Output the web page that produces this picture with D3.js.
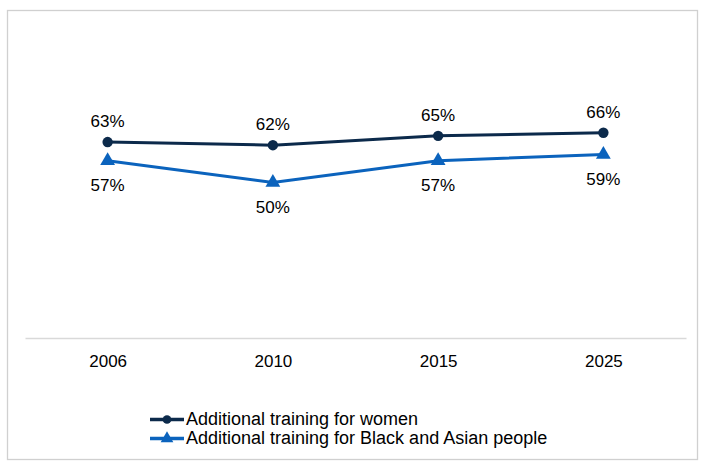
<!DOCTYPE html>
<html>
<head>
<meta charset="utf-8">
<script src="https://cdn.jsdelivr.net/npm/d3@7"></script>
<style>
  body { margin: 0; background: #fff; }
  text { font-family: "Liberation Sans", Arial, sans-serif; fill: #000; }
</style>
</head>
<body>
<div id="chart"></div>
<script>
// Data
var years = ["2006", "2010", "2015", "2025"];
var women = [63, 62, 65, 66];
var blackAsian = [57, 50, 57, 59];
var seriesNames = ["Additional training for women", "Additional training for Black and Asian people"];

var svgWidth = 714;
var svgHeight = 469;

var svg = d3.select("#chart")
  .append("svg")
  .attr("width", svgWidth)
  .attr("height", svgHeight);

// Outer frame
svg.append("rect")
  .attr("x", 7.5)
  .attr("y", 10.5)
  .attr("width", 690)
  .attr("height", 449)
  .style("fill", "none")
  .style("stroke", "#d0d0d0")
  .style("stroke-width", 1.3);

// Scales
var xScale = d3.scalePoint()
  .domain(years)
  .range([25, 686])
  .padding(0.5);

var yScale = d3.scaleLinear()
  .domain([0, 100])
  .range([338, 27]);

// Axis line + labels
var bottomAxis = d3.axisBottom(xScale).tickSize(0).tickPadding(17);
var axisG = svg.append("g")
  .attr("transform", "translate(0, 338)")
  .call(bottomAxis);
axisG.select(".domain").attr("stroke", "#d9d9d9").attr("stroke-width", 1.3);
axisG.selectAll("text")
  .style("font-size", "17px")
  .style("font-family", "'Liberation Sans', Arial, sans-serif");

var series = [
  { name: seriesNames[0], values: women, color: "#0c2a4b", marker: d3.symbolCircle, labelDy: -15 },
  { name: seriesNames[1], values: blackAsian, color: "#0b63bd", marker: d3.symbolTriangle, labelDy: 30 }
];

var line = d3.line()
  .x(function(d, i) { return xScale(years[i]); })
  .y(function(d) { return yScale(d); });

series.forEach(function(s) {
  svg.append("path")
    .datum(s.values)
    .attr("d", line)
    .attr("fill", "none")
    .attr("stroke", s.color)
    .attr("stroke-width", 3);

  svg.selectAll(null)
    .data(s.values)
    .enter()
    .append("path")
    .attr("d", d3.symbol().type(s.marker).size(s.marker === d3.symbolCircle ? 85 : 95))
    .attr("transform", function(d, i) { return "translate(" + xScale(years[i]) + "," + yScale(d) + ")"; })
    .attr("fill", s.color);

  svg.selectAll(null)
    .data(s.values)
    .enter()
    .append("text")
    .attr("x", function(d, i) { return xScale(years[i]); })
    .attr("y", function(d) { return yScale(d) + s.labelDy; })
    .attr("text-anchor", "middle")
    .style("font-size", "17px")
    .text(function(d) { return d + "%"; });
});

// Legend
var legend = svg.append("g").attr("transform", "translate(150, 419.5)");
series.forEach(function(s, i) {
  var g = legend.append("g").attr("transform", "translate(0," + (i * 19) + ")");
  g.append("line")
    .attr("x1", 0).attr("x2", 34)
    .attr("stroke", s.color)
    .attr("stroke-width", 3.5);
  g.append("path")
    .attr("d", d3.symbol().type(s.marker).size(s.marker === d3.symbolCircle ? 60 : 70))
    .attr("transform", "translate(17,0)")
    .attr("fill", s.color);
  g.append("text")
    .attr("x", 36)
    .attr("y", 5)
    .style("font-size", "18px")
    .text(s.name);
});
</script>
</body>
</html>
